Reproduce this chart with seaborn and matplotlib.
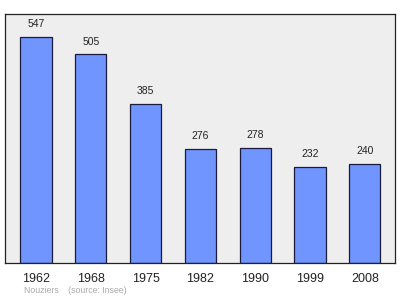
import matplotlib
matplotlib.use("Agg")
import matplotlib.pyplot as plt
import seaborn as sns
import pandas as pd

years = ["1962", "1968", "1975", "1982", "1990", "1999", "2008"]
population = [547, 505, 385, 276, 278, 232, 240]

sns.set_style("white")
plt.rcParams['font.family'] = ['Liberation Sans', 'DejaVu Sans']

fig = plt.figure(figsize=(4.0, 2.99), dpi=100)
ax = fig.add_axes([0.0125, 0.1204, 0.975, 0.8328])
ax.set_facecolor("#eeeeee")

df = pd.DataFrame({"year": years, "pop": population})
sns.barplot(data=df, x="year", y="pop", ax=ax, color="#7095ff", saturation=1,
            width=0.57, edgecolor="#1a1a3a", linewidth=0.9)

for i, v in enumerate(population):
    ax.text(i, v + 19, str(v), ha="center", va="bottom", fontsize=7.5, color="#222222")

ax.set_xlim(-0.566, 6.55)
ax.set_ylim(0, 603)
ax.set_yticks([])
ax.set_xlabel("")
ax.set_ylabel("")
ax.tick_params(axis="x", length=0, labelsize=9, pad=7.5, colors="#222222")
for s in ax.spines.values():
    s.set_color("#222222")
    s.set_linewidth(0.9)

fig.text(0.06, 0.02, "Nouziers    (source: Insee)", fontsize=6.3, color="#aaaaaa")

fig.savefig("out.png", dpi=100)
